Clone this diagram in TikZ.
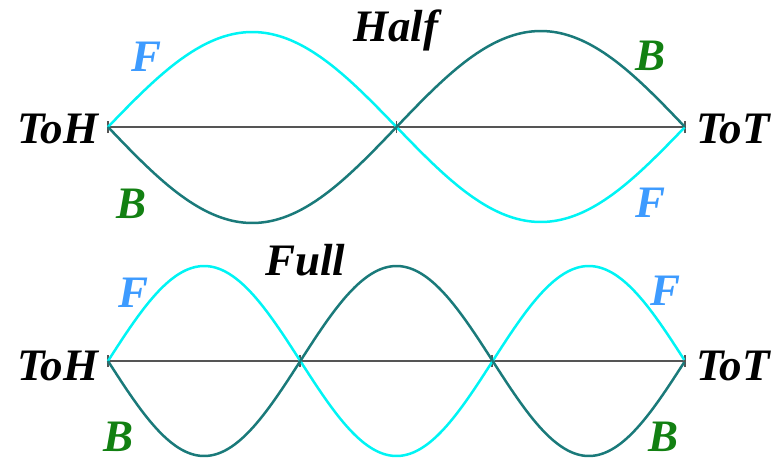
\documentclass[tikz,border=0pt]{standalone}
\usepackage{fontspec}
\setmainfont{Liberation Serif}
\definecolor{cyanline}{HTML}{00F4F4}
\definecolor{tealline}{HTML}{1A7A7A}
\definecolor{fblue}{HTML}{3D9BFF}
\definecolor{bgreen}{HTML}{128012}
\definecolor{axisgrey}{HTML}{555555}
\begin{document}
\begin{tikzpicture}[x=1pt,y=-1pt,
  lbl/.style={inner sep=0pt, anchor=base west, font=\fontsize{45}{45}\selectfont\bfseries\itshape},
  flbl/.style={lbl, text=fblue},
  blbl/.style={lbl, text=bgreen},
  axisline/.style={draw=axisgrey, line width=1.4pt},
  tickmark/.style={draw=axisgrey, line width=1.2pt},
  cyanwave/.style={draw=cyanline, line width=2.5pt},
  tealwave/.style={draw=tealline, line width=2.5pt}]
\useasboundingbox (0,0) rectangle (784,461);
% ---- top (Half) ----
\coordinate (a0) at (108,127);
\coordinate (a1) at (396.5,127);
\coordinate (a2) at (685,127);
\draw[axisline] (a0) -- (a2);
\foreach \p in {a0,a1,a2} \draw[tickmark] ([yshift=-6pt]\p) -- ([yshift=6pt]\p);
\draw[cyanwave] plot[domain=0:1, samples=80, smooth] ({108+577*\x},{127-95*sin(360*\x)});
\draw[tealwave] plot[domain=0:1, samples=80, smooth] ({108+577*\x},{127+96*sin(360*\x)});
\node[lbl] (half) at (353,41) {Half};
\node[lbl] (toh1) at (17,143) {ToH};
\node[lbl] (tot1) at (696,143) {ToT};
\node[flbl] (f1) at (131,71) {F};
\node[blbl] (b1) at (116,218) {B};
\node[blbl] (b2) at (635,70) {B};
\node[flbl] (f2) at (635,217) {F};
% ---- bottom (Full) ----
\coordinate (c0) at (108,361);
\coordinate (c1) at (300,361);
\coordinate (c2) at (492,361);
\coordinate (c3) at (685,361);
\draw[axisline] (c0) -- (c3);
\foreach \p in {c0,c1,c2,c3} \draw[tickmark] ([yshift=-6pt]\p) -- ([yshift=6pt]\p);
\draw[cyanwave] plot[domain=0:1, samples=120, smooth] ({108+577*\x},{361-95*sin(540*\x)});
\draw[tealwave] plot[domain=0:1, samples=120, smooth] ({108+577*\x},{361+95*sin(540*\x)});
\node[lbl] (full) at (265,275) {Full};
\node[lbl] (toh2) at (17,380) {ToH};
\node[lbl] (tot2) at (696,380) {ToT};
\node[flbl] (f3) at (118,307) {F};
\node[blbl] (b3) at (103,451) {B};
\node[flbl] (f4) at (650,305) {F};
\node[blbl] (b4) at (648,451) {B};
\end{tikzpicture}
\end{document}
